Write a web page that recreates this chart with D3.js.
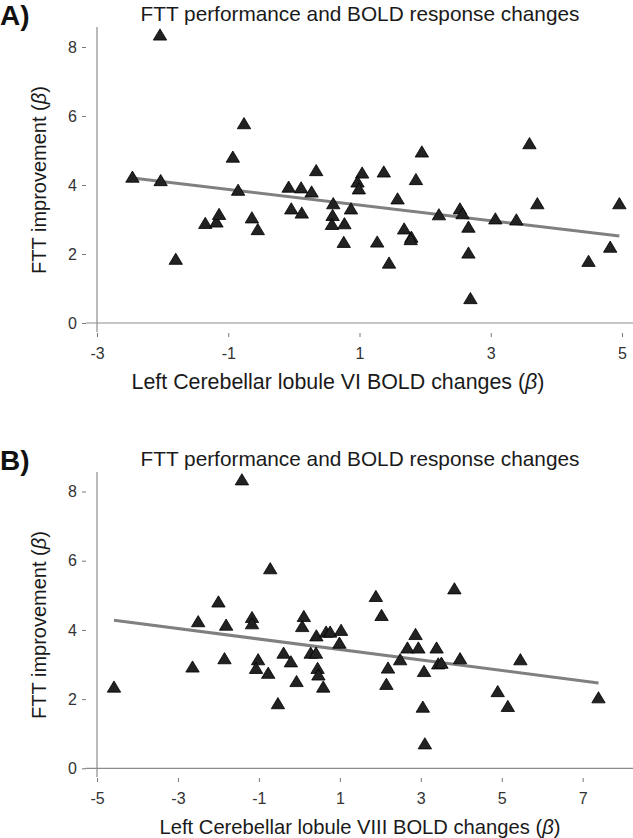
<!DOCTYPE html>
<html>
<head>
<meta charset="utf-8">
<script src="https://cdn.jsdelivr.net/npm/d3@7/dist/d3.min.js"></script>
<style>
  html, body { margin: 0; padding: 0; background: #fff; }
  svg { display: block; font-family: "Liberation Sans", Arial, Helvetica, sans-serif; }
</style>
</head>
<body>
<svg id="chart" width="633" height="838"></svg>
<script>
// ---- Data ----
const panelLabels = ["A)", "B)"];
const chartTitle = "FTT performance and BOLD response changes";
const yLabel = "FTT improvement (";
const xLabels = ["Left Cerebellar lobule VI BOLD changes (", "Left Cerebellar lobule VIII BOLD changes ("];

const yTicks = [0, 2, 4, 6, 8];
const xTicksA = [-3, -1, 1, 3, 5];
const xTicksB = [-5, -3, -1, 1, 3, 5, 7];

// Panel A: lobule VI BOLD change (x) vs FTT improvement (y)
const boldVI = [-2.04, -0.76, -0.93, -2.46, -2.03, -0.85, -0.08, 0.11, 0.27, 0.34,
  -1.35, -1.18, -1.14, -0.64, -0.55, -1.80, -0.04, 0.12, 0.60, 0.59,
  0.58, 0.77, 0.76, 0.87, 1.04, 0.97, 0.99, 1.27, 1.37, 1.95,
  1.86, 1.58, 1.45, 1.68, 1.79, 1.78, 2.21, 2.53, 2.57, 2.66,
  2.66, 2.69, 3.07, 3.39, 3.71, 3.59, 4.49, 4.82, 4.96];
const fttA = [8.36, 5.79, 4.82, 4.24, 4.14, 3.86, 3.95, 3.93, 3.81, 4.43,
  2.90, 2.94, 3.16, 3.06, 2.72, 1.86, 3.32, 3.20, 3.47, 3.13,
  2.87, 2.89, 2.35, 3.32, 4.36, 4.10, 3.90, 2.36, 4.39, 4.97,
  4.17, 3.61, 1.75, 2.74, 2.50, 2.43, 3.15, 3.32, 3.18, 2.79,
  2.04, 0.72, 3.03, 3.00, 3.47, 5.21, 1.80, 2.21, 3.47];

// Panel B: lobule VIII BOLD change (x) vs FTT improvement (y)
const boldVIII = [-1.42, -0.72, -2.00, -2.50, -1.81, -1.17, -1.17, 0.11, 0.07, 0.42,
  -4.58, -2.64, -1.85, -1.02, -1.07, -0.77, -0.53, -0.39, -0.21, -0.07,
  0.28, 0.41, 0.45, 0.47, 0.59, 0.66, 0.76, 1.03, 0.99, 1.89,
  2.03, 3.83, 2.87, 2.67, 2.94, 3.39, 2.49, 2.19, 2.15, 3.08,
  3.43, 3.51, 3.97, 5.46, 4.90, 5.15, 3.05, 3.10, 7.39];
const fttB = [8.35, 5.78, 4.82, 4.25, 4.15, 4.37, 4.19, 4.40, 4.11, 3.84,
  2.36, 2.94, 3.18, 3.15, 2.90, 2.76, 1.88, 3.34, 3.09, 2.52,
  3.34, 3.34, 2.90, 2.71, 2.36, 3.95, 3.95, 4.00, 3.63, 4.98,
  4.43, 5.20, 3.88, 3.49, 3.49, 3.49, 3.15, 2.91, 2.44, 2.81,
  3.03, 3.05, 3.18, 3.15, 2.23, 1.80, 1.78, 0.72, 2.05];

// ---- Layout ----
const svg = d3.select("#chart");

const panels = [
  { label: panelLabels[0], xs: boldVI, ys: fttA, xTicks: xTicksA, xDomain: [-3, 5], xRange: [97, 622],
    yRange: [323, 47], top: 27, bottom: 333, left: 86, off: 0, xLabel: xLabels[0],
    xlCenter: 338, xlSize: 21.4 },
  { label: panelLabels[1], xs: boldVIII, ys: fttB, xTicks: xTicksB, xDomain: [-5, 7], xRange: [97, 582.7],
    yRange: [768.3, 491.5], top: 472, bottom: 778, left: 86, off: 445, xLabel: xLabels[1],
    xlCenter: 360, xlSize: 20.2 }
];

function linreg(xs, ys) {
  const mx = d3.mean(xs), my = d3.mean(ys);
  let sxy = 0, sxx = 0;
  xs.forEach((x, i) => { sxy += (x - mx) * (ys[i] - my); sxx += (x - mx) * (x - mx); });
  const b = sxy / sxx;
  return { b, a: my - b * mx };
}

function betaLabel(sel, prefix) {
  sel.append("tspan").text(prefix);
  sel.append("tspan").attr("font-style", "italic").text("\u03B2");
  sel.append("tspan").text(")");
}

const tri = "M0,-5.7L6.7,5.5L-6.7,5.5Z";

panels.forEach(p => {
  const g = svg.append("g");
  const x = d3.scaleLinear().domain(p.xDomain).range(p.xRange);
  const y = d3.scaleLinear().domain([0, 8]).range(p.yRange);
  const right = 633;

  // panel label
  g.append("text").attr("x", 0).attr("y", 25 + p.off)
    .attr("font-size", 28).attr("font-weight", "bold").attr("fill", "#111")
    .text(p.label);

  // title
  g.append("text").attr("x", 360).attr("y", 21 + p.off).attr("text-anchor", "middle")
    .attr("font-size", 20.8).attr("fill", "#1a1a1a").text(chartTitle);

  // zero reference line and vertical axis line
  g.append("line").attr("x1", p.left).attr("x2", right)
    .attr("y1", y(0)).attr("y2", y(0)).attr("stroke", "#8c8c8c").attr("stroke-width", 1.2);
  g.append("line").attr("x1", x(p.xDomain[0])).attr("x2", x(p.xDomain[0]))
    .attr("y1", p.top).attr("y2", p.bottom - 1).attr("stroke", "#8c8c8c").attr("stroke-width", 1.2);

  // axes
  const xAxis = g.append("g").attr("transform", `translate(0,${p.bottom})`)
    .call(d3.axisBottom(x).tickValues(p.xTicks).tickSize(4).tickPadding(11)
      .tickFormat(d => String(d)));
  const yAxis = g.append("g").attr("transform", `translate(${p.left},0)`)
    .call(d3.axisLeft(y).tickValues(yTicks).tickSize(4).tickPadding(5)
      .tickFormat(d => String(d)));
  [xAxis, yAxis].forEach(ax => {
    ax.select(".domain").remove();
    ax.selectAll(".tick line").attr("stroke", "#555").attr("stroke-width", 0.8);
    ax.selectAll(".tick text").attr("fill", "#333").attr("font-size", 16)
      .attr("font-family", "'Liberation Sans', Arial, sans-serif");
  });

  // regression line
  const fit = linreg(p.xs, p.ys);
  const ext = d3.extent(p.xs);
  g.append("line")
    .attr("x1", x(ext[0])).attr("y1", y(fit.a + fit.b * ext[0]))
    .attr("x2", x(ext[1])).attr("y2", y(fit.a + fit.b * ext[1]))
    .attr("stroke", "#808080").attr("stroke-width", 3);

  // points
  g.append("g").selectAll("path").data(p.xs.map((d, i) => [d, p.ys[i]])).join("path")
    .attr("d", tri)
    .attr("transform", d => `translate(${x(d[0])},${y(d[1])})`)
    .attr("fill", "#222").attr("stroke", "#000").attr("stroke-width", 0.8);

  // axis labels
  g.append("text").attr("transform", `translate(46,${(p.top + p.bottom) / 2}) rotate(-90)`)
    .attr("text-anchor", "middle").attr("font-size", 20).attr("fill", "#1a1a1a")
    .call(betaLabel, yLabel);
  g.append("text").attr("x", p.xlCenter).attr("y", 389 + p.off).attr("text-anchor", "middle")
    .attr("font-size", p.xlSize).attr("fill", "#1a1a1a")
    .call(betaLabel, p.xLabel);
});
</script>
</body>
</html>
